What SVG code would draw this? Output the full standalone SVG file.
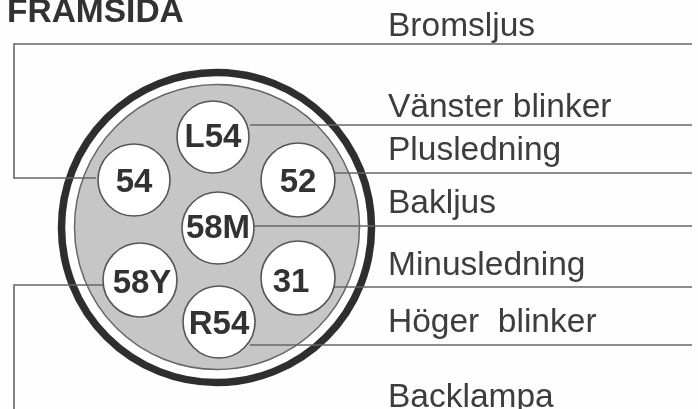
<svg xmlns="http://www.w3.org/2000/svg" width="698" height="409" viewBox="0 0 698 409">
<style>
text{font-family:"Liberation Sans",Arial,sans-serif;font-size:33.5px;fill:#3c3c3c;white-space:pre}
.b{font-weight:bold;fill:#333}
.p text{font-size:33px;font-weight:bold;text-anchor:middle;fill:#333}
.p circle{fill:#fff;stroke:#555;stroke-width:1.6}
.w{fill:none;stroke:#666;stroke-width:1.6}
</style>
<defs><filter id="soft" x="0" y="0" width="100%" height="100%"><feGaussianBlur stdDeviation="0.5"/></filter></defs>
<rect width="698" height="409" fill="#fefefe"/>
<g filter="url(#soft)">
<g id="connector-body">
<circle cx="216.5" cy="227.5" r="155" fill="#fff" stroke="#2e2e2e" stroke-width="7.5"/>
<circle cx="217" cy="227" r="142.5" fill="#c6c6c6" stroke="#666" stroke-width="1.5"/>
</g>
<g id="connectors">
<path class="w" d="M692 44H14V178H96"/>
<path class="w" d="M250 125H692"/>
<path class="w" d="M334 173H692"/>
<path class="w" d="M254 226H692"/>
<path class="w" d="M334 287H692"/>
<path class="w" d="M250 345H692"/>
<path class="w" d="M104 285H14V409"/>
</g>
<g id="pin-L54" class="p"><circle cx="213" cy="137" r="36"/><text x="213" y="147">L54</text></g>
<g id="pin-54" class="p"><circle cx="134" cy="180" r="36"/><text x="134" y="192">54</text></g>
<g id="pin-52" class="p"><circle cx="298" cy="180" r="37"/><text x="298" y="192">52</text></g>
<g id="pin-58M" class="p"><circle cx="218" cy="228" r="36"/><text x="218" y="238">58M</text></g>
<g id="pin-58Y" class="p"><circle cx="140" cy="280" r="37"/><text x="142" y="293">58Y</text></g>
<g id="pin-31" class="p"><circle cx="298" cy="278" r="37"/><text x="291" y="292">31</text></g>
<g id="pin-R54" class="p"><circle cx="219" cy="322" r="36"/><text x="219" y="334">R54</text></g>
<g id="labels">
<text class="b" x="7" y="22">FRAMSIDA</text>
<text x="388" y="36">Bromsljus</text>
<text x="388" y="117">Vänster blinker</text>
<text x="388" y="160">Plusledning</text>
<text x="388" y="213">Bakljus</text>
<text x="388" y="275">Minusledning</text>
<text x="388" y="332">Höger  blinker</text>
<text x="388" y="407">Backlampa</text>
</g>
</g>
</svg>
